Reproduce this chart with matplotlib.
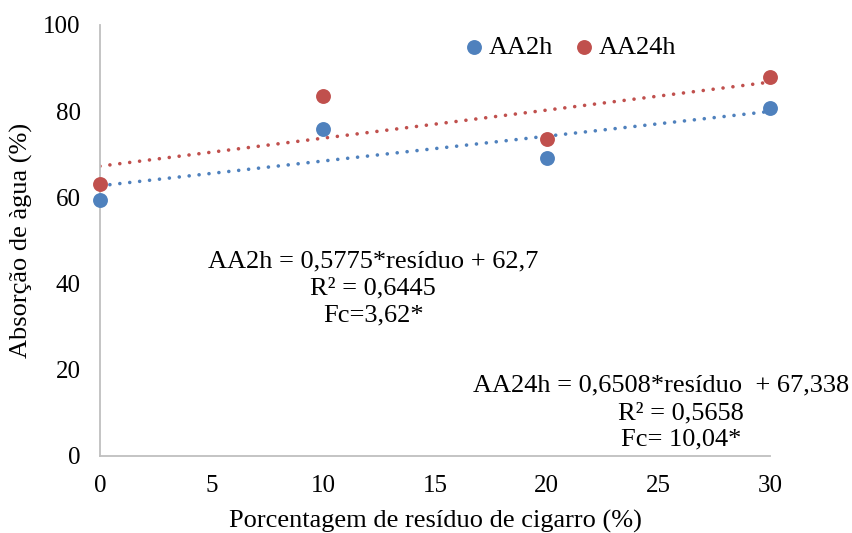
import numpy as np
import matplotlib
matplotlib.use("Agg")
import matplotlib.pyplot as plt

plt.rcParams["font.family"] = ["Liberation Serif", "DejaVu Serif"]

residuo = [0, 10, 20, 30]
aa2h = [59.4, 75.9, 69.2, 80.8]
aa24h = [63.0, 83.5, 73.5, 88.0]

BLUE = "#4f81bd"
RED = "#c0504d"
GRID = "#bfbfbf"

fig = plt.figure(figsize=(8.53, 5.33), dpi=100)
ax = fig.add_axes([100 / 853, 1 - 456 / 533, 670 / 853, 431 / 533])

# linear trendlines (Excel style, dotted)
xs = np.array([0, 30])
for ys, col, lab in ((aa2h, BLUE, "AA2h"), (aa24h, RED, "AA24h")):
    k, b = np.polyfit(residuo, ys, 1)
    ax.plot(xs, k * xs + b, color=col, lw=2.6, ls=(0, (0.01, 2.75)),
            dash_capstyle="round", zorder=2)
    ax.scatter(residuo, ys, s=115, color=col, label=lab, zorder=3,
               linewidths=0, clip_on=False)

ax.set_xlim(0, 30)
ax.set_ylim(0, 100)
ax.set_xticks([0, 5, 10, 15, 20, 25, 30])
ax.set_yticks([0, 20, 40, 60, 80, 100])
ax.tick_params(length=0, labelsize=18)
ax.tick_params(axis="x", pad=14)
ax.tick_params(axis="y", pad=14)
for side in ("top", "right"):
    ax.spines[side].set_visible(False)
for side in ("left", "bottom"):
    ax.spines[side].set_color(GRID)
    ax.spines[side].set_linewidth(1.3)

ax.set_xlabel("Porcentagem de resíduo de cigarro (%)", fontsize=19, labelpad=9)
ax.set_ylabel("Absorção de àgua (%)", fontsize=19, labelpad=7)

fig.legend(loc="center left", bbox_to_anchor=(466 / 853, 1 - 47 / 533), ncol=2,
           frameon=False, fontsize=19, handlelength=0.6, handletextpad=0.25,
           columnspacing=0.9, borderpad=0, borderaxespad=0)

ax.text(0.408, 0.388, "AA2h = 0,5775*resíduo + 62,7\nR² = 0,6445\nFc=3,62*",
        transform=ax.transAxes, ha="center", va="center", fontsize=19,
        linespacing=1.3, zorder=4)
ax.text(0.837, (456 - 385) / 431, "AA24h = 0,6508*resíduo  + 67,338",
        transform=ax.transAxes, ha="center", va="center", fontsize=19,
        zorder=4, clip_on=False)
ax.text(0.867, (456 - 426.5) / 431, "R² = 0,5658\nFc= 10,04*",
        transform=ax.transAxes, ha="center", va="center", fontsize=19,
        linespacing=1.25, zorder=4, clip_on=False)

fig.savefig("out.png", dpi=100, facecolor="white")
